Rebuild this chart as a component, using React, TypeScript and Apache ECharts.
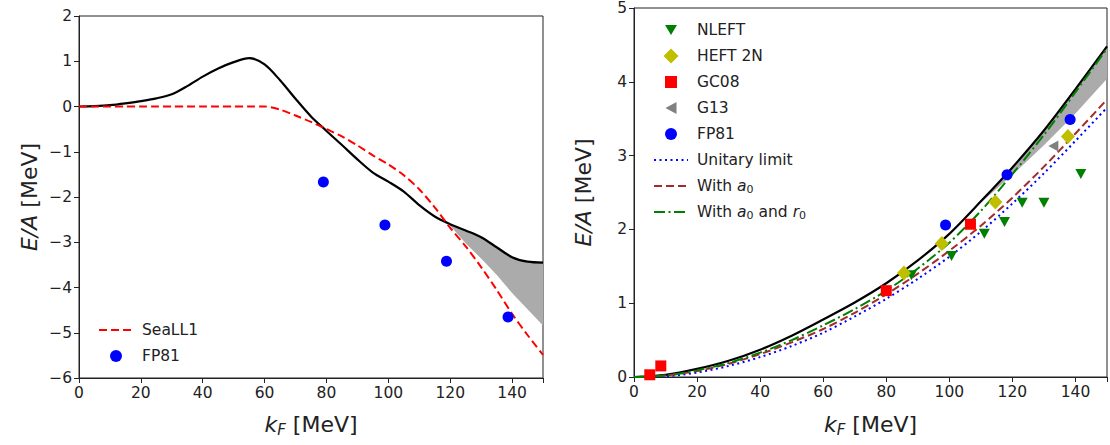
import React, { useEffect, useRef } from "react";
import * as echarts from "echarts";

// ---------- Left panel data ----------
const kLeft = [0, 5, 10, 15, 20, 25, 30, 35, 40, 45, 50, 55, 60, 65, 70, 75, 80, 85, 90, 95, 100, 105, 110, 115, 120, 125, 130, 135, 140, 145, 150];
const eftLeft = [0, 0.01, 0.03, 0.07, 0.12, 0.18, 0.27, 0.45, 0.66, 0.84, 0.98, 1.07, 0.93, 0.58, 0.17, -0.22, -0.54, -0.85, -1.17, -1.46, -1.66, -1.88, -2.18, -2.43, -2.6, -2.74, -2.89, -3.11, -3.33, -3.43, -3.45];
const seaLL1 = [0, 0, 0, 0, 0, 0, 0, 0, 0, 0, 0, 0, 0, -0.07, -0.2, -0.34, -0.5, -0.66, -0.86, -1.08, -1.28, -1.52, -1.83, -2.23, -2.68, -3.09, -3.55, -4.05, -4.58, -5.05, -5.49];
const bandLeftK = [119, 125, 130, 135, 140, 145, 150];
const bandLeftLow = [-2.56, -3.02, -3.36, -3.72, -4.12, -4.48, -4.84];
const bandLeftHigh = [-2.56, -2.74, -2.89, -3.11, -3.33, -3.43, -3.45];
const fp81Left = [[79, -1.67], [98.9, -2.62], [118.8, -3.42], [138.7, -4.65]];

// ---------- Right panel data ----------
const kRight = [0, 10, 20, 30, 40, 50, 60, 70, 80, 90, 100, 110, 120, 130, 140, 150];
const eftRight = [0, 0.03, 0.11, 0.22, 0.37, 0.56, 0.78, 1.01, 1.27, 1.58, 1.94, 2.38, 2.84, 3.34, 3.9, 4.48];
const withA0R0 = [0, 0.02, 0.09, 0.19, 0.33, 0.5, 0.7, 0.92, 1.17, 1.47, 1.82, 2.25, 2.75, 3.28, 3.86, 4.45];
const withA0 = [0, 0.02, 0.08, 0.18, 0.31, 0.47, 0.65, 0.87, 1.12, 1.4, 1.71, 2.05, 2.43, 2.85, 3.3, 3.76];
const unitary = [0, 0.01, 0.06, 0.15, 0.27, 0.42, 0.6, 0.82, 1.06, 1.33, 1.63, 1.97, 2.35, 2.76, 3.2, 3.65];
const bandRightK = [105, 110, 120, 130, 140, 150];
const bandRightLow = [2.16, 2.36, 2.74, 3.14, 3.57, 4.04];
const bandRightHigh = [2.16, 2.38, 2.84, 3.34, 3.9, 4.48];
const nleft = [[88, 1.38], [100.7, 1.64], [111.1, 1.94], [117.5, 2.1], [123.1, 2.36], [130, 2.36], [141.7, 2.75]];
const heft2N = [[85.6, 1.41], [97.6, 1.81], [114.6, 2.37], [137.6, 3.26]];
const gc08 = [[5, 0.03], [8.5, 0.15], [80, 1.17], [106.7, 2.07]];
const g13 = [[133, 3.13]];
const fp81Right = [[98.8, 2.06], [118.3, 2.74], [138.3, 3.49]];

const xTicks = { min: 0, max: 150, interval: 20 };
const yLeftTicks = { min: -6, max: 2, interval: 1 };
const yRightTicks = { min: 0, max: 5, interval: 1 };

const FONT = "DejaVu Sans";
const INK = "#222";

const zip = (xs: number[], ys: number[]) => xs.map((x, i) => [x, ys[i]]);
const minus = (v: number) => String(v).replace("-", "\u2212");

// legend icons drawn inside a 16x16 box (the leading moves fix the box)
const BOX = "path://M0,0 M16,16 ";
const ICON = {
  triDown: BOX + "M2,3 L14,3 L8,13 Z",
  diamond: BOX + "M8,0.5 L15.5,8 L8,15.5 L0.5,8 Z",
  square: BOX + "M2,2 L14,2 L14,14 L2,14 Z",
  triLeft: BOX + "M13.5,2 L13.5,14 L2.5,8 Z",
  circle: BOX + "M2,8 A6,6 0 1,0 14,8 A6,6 0 1,0 2,8 Z",
};

const nameRich = {
  i: { fontFamily: FONT, fontSize: 22, fontStyle: "italic", color: INK, lineHeight: 26 },
  n: { fontFamily: FONT, fontSize: 22, color: INK, lineHeight: 26 },
  s: { fontFamily: FONT, fontSize: 15, fontStyle: "italic", color: INK, verticalAlign: "bottom", lineHeight: 15 },
};

function xAxisCfg(gridIndex: number, gap: number) {
  return {
    type: "value",
    gridIndex,
    ...xTicks,
    name: "{i|k}{s|F}{n| [MeV]}",
    nameLocation: "middle",
    nameGap: gap,
    nameTextStyle: { rich: nameRich },
    axisLine: { show: true, onZero: false, lineStyle: { color: INK, width: 1 } },
    axisTick: { show: true, inside: false, length: 5, lineStyle: { color: INK } },
    axisLabel: {
      fontFamily: FONT, fontSize: 15.5, color: INK, margin: 7,
      formatter: (v: number) => (v > 140 ? "" : String(v)),
    },
    splitLine: { show: false },
  };
}
function yAxisCfg(gridIndex: number, ticks: any, gap: number) {
  return {
    type: "value",
    gridIndex,
    ...ticks,
    name: "{i|E/A}{n| [MeV]}",
    nameLocation: "middle",
    nameGap: gap,
    nameTextStyle: { rich: nameRich },
    axisLine: { show: true, onZero: false, lineStyle: { color: INK, width: 1 } },
    axisTick: { show: true, inside: false, length: 5, lineStyle: { color: INK } },
    axisLabel: { fontFamily: FONT, fontSize: 15.5, color: INK, margin: 7, formatter: minus },
    splitLine: { show: false },
  };
}

function bandSeries(axis: number, ks: number[], lo: number[], hi: number[]) {
  return {
    type: "custom",
    name: "band" + axis,
    xAxisIndex: axis,
    yAxisIndex: axis,
    silent: true,
    z: 1,
    data: [[ks[0], lo[0]]],
    renderItem: (_p: any, api: any) => {
      const top = ks.map((k, i) => api.coord([k, hi[i]]));
      const bot = ks.map((k, i) => api.coord([k, lo[i]])).reverse();
      return { type: "polygon", shape: { points: top.concat(bot) }, style: { fill: "#ababab", stroke: null } };
    },
  };
}

const lineBase = { type: "line", symbol: "none", smooth: 0.3, silent: true, z: 2 };
const noDot = { itemStyle: { opacity: 0 } };

export default function App() {
  const ref = useRef<HTMLDivElement>(null);
  useEffect(() => {
    if (!ref.current) return;
    const chart = echarts.init(ref.current, null, { renderer: "svg" });
    const legendText = {
      fontFamily: FONT,
      fontSize: 15.5,
      color: INK,
      lineHeight: 18,
      padding: [0, 0, 0, 4],
      rich: {
        i: { fontFamily: FONT, fontSize: 15.5, fontStyle: "italic", color: INK, lineHeight: 18 },
        s: { fontFamily: FONT, fontSize: 11, color: INK, verticalAlign: "bottom", lineHeight: 11 },
      },
    };
    const option: any = {
      animation: false,
      backgroundColor: "#fff",
      grid: [
        { left: 79, top: 16, width: 464, height: 362, show: true, borderColor: INK, borderWidth: 1 },
        { left: 634, top: 6, width: 475, height: 371, show: true, borderColor: INK, borderWidth: 1 },
      ],
      xAxis: [xAxisCfg(0, 33), xAxisCfg(1, 34)],
      yAxis: [yAxisCfg(0, yLeftTicks, 37), yAxisCfg(1, yRightTicks, 38)],
      legend: [
        {
          left: 93,
          top: 316,
          orient: "vertical",
          itemWidth: 34,
          itemHeight: 16,
          itemGap: 8,
          data: [{ name: "SeaLL1", ...noDot }, { name: "FP81", icon: ICON.circle }],
          textStyle: legendText,
          selectedMode: false,
        },
        {
          left: 648,
          top: 16,
          orient: "vertical",
          itemWidth: 34,
          itemHeight: 16,
          itemGap: 8,
          data: [
            { name: "NLEFT", icon: ICON.triDown },
            { name: "HEFT 2N", icon: ICON.diamond },
            { name: "GC08", icon: ICON.square },
            { name: "G13", icon: ICON.triLeft },
            { name: "FP81", icon: ICON.circle },
            { name: "Unitary limit", ...noDot },
            { name: "With a0", ...noDot },
            { name: "With a0 and r0", ...noDot },
          ],
          formatter: (n: string) =>
            n === "With a0" ? "With {i|a}{s|0}" : n === "With a0 and r0" ? "With {i|a}{s|0} and {i|r}{s|0}" : n,
          textStyle: legendText,
          selectedMode: false,
        },
      ],
      series: [
        // left panel
        bandSeries(0, bandLeftK, bandLeftLow, bandLeftHigh),
        {
          ...lineBase, name: "EFT-L", xAxisIndex: 0, yAxisIndex: 0,
          data: zip(kLeft, eftLeft), lineStyle: { color: "#000", width: 2.2 },
        },
        {
          ...lineBase, name: "SeaLL1", xAxisIndex: 0, yAxisIndex: 0,
          data: zip(kLeft, seaLL1), itemStyle: { color: "#ff0000" },
          lineStyle: { color: "#ff0000", width: 2, type: [8, 4] },
        },
        {
          type: "scatter", name: "FP81", xAxisIndex: 0, yAxisIndex: 0, silent: true, z: 3,
          data: fp81Left, symbol: "circle", symbolSize: 11, itemStyle: { color: "#0000ff", opacity: 1 },
        },
        // right panel
        bandSeries(1, bandRightK, bandRightLow, bandRightHigh),
        {
          ...lineBase, name: "EFT-R", xAxisIndex: 1, yAxisIndex: 1,
          data: zip(kRight, eftRight), lineStyle: { color: "#000", width: 2.2 },
        },
        {
          ...lineBase, name: "Unitary limit", xAxisIndex: 1, yAxisIndex: 1,
          data: zip(kRight, unitary), itemStyle: { color: "#0000ff" },
          lineStyle: { color: "#0000ff", width: 2, type: [2, 3.5] },
        },
        {
          ...lineBase, name: "With a0", xAxisIndex: 1, yAxisIndex: 1,
          data: zip(kRight, withA0), itemStyle: { color: "#a52a2a" },
          lineStyle: { color: "#a52a2a", width: 2, type: [8, 4] },
        },
        {
          ...lineBase, name: "With a0 and r0", xAxisIndex: 1, yAxisIndex: 1,
          data: zip(kRight, withA0R0), itemStyle: { color: "#008000" },
          lineStyle: { color: "#008000", width: 2, type: [11, 3.5, 2, 3.5] },
        },
        {
          type: "scatter", name: "NLEFT", xAxisIndex: 1, yAxisIndex: 1, silent: true, z: 3,
          data: nleft, symbol: "path://M0,0 L10,0 L5,9 Z", symbolSize: [11, 10], itemStyle: { color: "#008000", opacity: 1 },
        },
        {
          type: "scatter", name: "HEFT 2N", xAxisIndex: 1, yAxisIndex: 1, silent: true, z: 3,
          data: heft2N, symbol: "path://M5,0 L10,5 L5,10 L0,5 Z", symbolSize: [14, 15], itemStyle: { color: "#bfbf00", opacity: 1 },
        },
        {
          type: "scatter", name: "GC08", xAxisIndex: 1, yAxisIndex: 1, silent: true, z: 3,
          data: gc08, symbol: "path://M0,0 L10,0 L10,10 L0,10 Z", symbolSize: 11, itemStyle: { color: "#ff0000", opacity: 1 },
        },
        {
          type: "scatter", name: "G13", xAxisIndex: 1, yAxisIndex: 1, silent: true, z: 3,
          data: g13, symbol: "path://M10,0 L10,10 L0,5 Z", symbolSize: [10, 11], itemStyle: { color: "#808080", opacity: 1 },
        },
        {
          type: "scatter", name: "FP81", xAxisIndex: 1, yAxisIndex: 1, silent: true, z: 3,
          data: fp81Right, symbol: "circle", symbolSize: 11, itemStyle: { color: "#0000ff", opacity: 1 },
        },
      ],
    };
    chart.setOption(option);
    return () => chart.dispose();
  }, []);
  return (
    <div
      ref={ref}
      style={{ position: "absolute", left: 0, top: 0, width: 1110, height: 445, background: "#fff" }}
    />
  );
}
